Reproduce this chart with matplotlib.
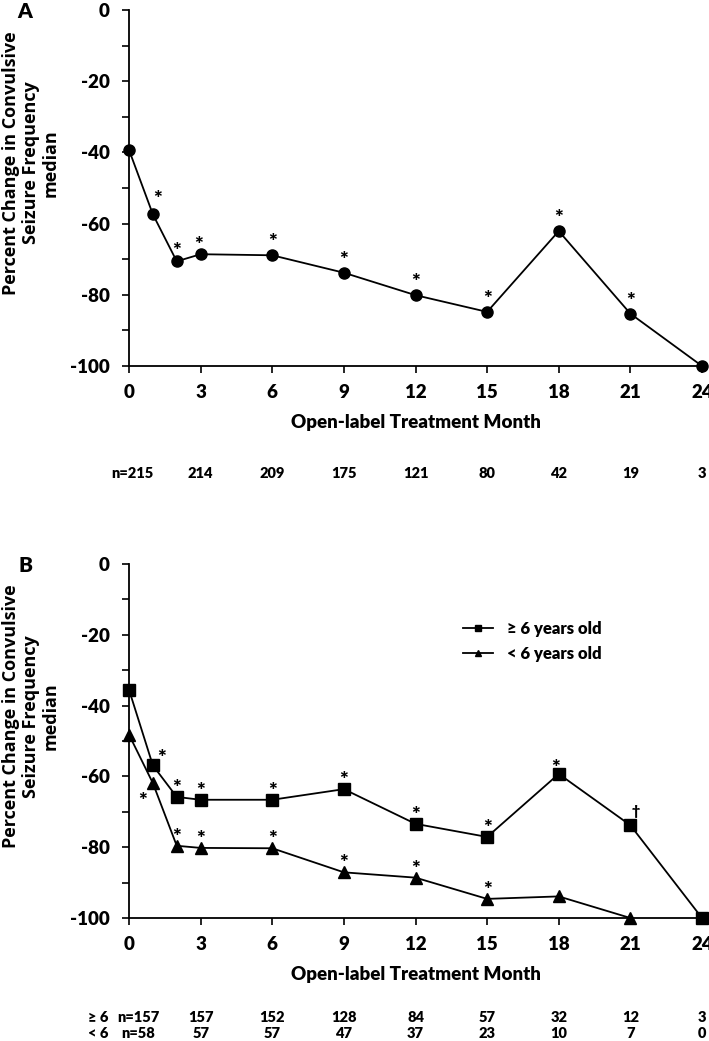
import numpy as np
import matplotlib
matplotlib.use("Agg")
import matplotlib.pyplot as plt

plt.rcParams["axes.unicode_minus"] = False

# ---- data ----
months = [0, 1, 2, 3, 6, 9, 12, 15, 18, 21, 24]
all_median = [-39.3, -57.4, -70.6, -68.6, -68.9, -73.8, -80.1, -84.8, -62.1, -85.3, -100]
all_sig = ["", "*", "*", "*", "*", "*", "*", "*", "*", "*", ""]
n_all = ["n=215", "214", "209", "175", "121", "80", "42", "19", "3"]

ge6_median = [-35.5, -56.9, -65.8, -66.6, -66.6, -63.6, -73.4, -77.1, -59.3, -73.8, -100]
ge6_sig = ["", "*", "*", "*", "*", "*", "*", "*", "*", "\u2020", ""]
lt6_months = [0, 1, 2, 3, 6, 9, 12, 15, 18, 21]
lt6_median = [-48.2, -61.9, -79.6, -80.2, -80.3, -87.1, -88.6, -94.6, -93.9, -100]
lt6_sig = ["", "*", "*", "*", "*", "*", "*", "*", "", ""]
n_ge6 = ["n=157", "157", "152", "128", "84", "57", "32", "12", "3"]
n_lt6 = ["n=58", "57", "57", "47", "37", "23", "10", "7", "0"]

tick_months = [0, 3, 6, 9, 12, 15, 18, 21, 24]

num_font = ["Lato", "DejaVu Sans"]
lab_font = ["Open Sans", "DejaVu Sans"]

W, H = 709, 1041
fig = plt.figure(figsize=(W / 100, H / 100), dpi=100)


def px_axes(l, t, r, b):
    return fig.add_axes([l / W, 1 - b / H, (r - l) / W, (b - t) / H])


def style(ax):
    ax.set_xlim(0, 24)
    ax.set_ylim(-100, 0)
    ax.spines["top"].set_visible(False)
    ax.spines["right"].set_visible(False)
    ax.spines["left"].set_linewidth(1.3)
    ax.spines["bottom"].set_linewidth(1.3)
    ax.set_xticks(tick_months)
    ax.set_yticks(np.arange(-100, 1, 20))
    ax.set_yticks(np.arange(-90, 0, 20), minor=True)
    ax.tick_params(axis="both", which="both", direction="out", length=5, width=1.2)
    ax.tick_params(axis="x", pad=8)
    ax.tick_params(axis="y", pad=9)
    for lb in ax.get_xticklabels() + ax.get_yticklabels():
        lb.set_family(num_font)
        lb.set_fontweight("heavy")
        lb.set_fontsize(13.5)
    ax.set_ylabel("Percent Change in Convulsive\nSeizure Frequency\nmedian",
                  family=lab_font, fontweight="bold", fontsize=13,
                  linespacing=1.15)
    ax.yaxis.set_label_coords(-69 / 573, 0.57)
    ax.set_xlabel("Open-label Treatment Month", family=num_font,
                  fontweight="heavy", fontsize=13.5, labelpad=9)


def stars(ax, xs, ys, marks, dy=16, special=None):
    # dy: pixels from the point up to the centre of the mark
    special = special or {}
    for x, y, m in zip(xs, ys, marks):
        if not m:
            continue
        ddx, ddy = special.get(x, (0, dy))
        size = 15 if m == "*" else 10
        lift = (0.58 if m == "*" else 0.35) * size * 100 / 72
        ax.annotate(m, (x, y), xytext=(ddx, ddy - lift), textcoords="offset pixels",
                    ha="center", va="baseline", fontsize=size,
                    fontweight="heavy", family=num_font, annotation_clip=False)


# ---- panel A ----
axA = px_axes(129, 10, 702, 366)
style(axA)
axA.plot(months, all_median, color="black", lw=1.3, marker="o", ms=8,
         clip_on=False, zorder=3)
stars(axA, months, all_median, all_sig, dy=18, special={1: (5, 20), 2: (0, 15), 3: (-2, 14)})
for m, t in zip(tick_months, n_all):
    axA.text(m + (0.13 if t.startswith("n=") else 0), -(473 - 366) / (366 - 10), t,
             transform=axA.get_xaxis_transform(), ha="center", va="center",
             family=num_font, fontweight="heavy", fontsize=10.5)
fig.text(25 / W, 1 - 12 / H, "A", ha="center", va="center",
         family=num_font, fontweight="heavy", fontsize=15)

# ---- panel B ----
axB = px_axes(129, 564, 702, 918)
style(axB)
axB.plot(months, ge6_median, color="black", lw=1.3, marker="s", ms=8,
         clip_on=False, zorder=3, label="\u2265 6 years old")
axB.plot(lt6_months, lt6_median, color="black", lw=1.3, marker="^", ms=8,
         clip_on=False, zorder=3, label="< 6 years old")
stars(axB, months, ge6_median, ge6_sig, dy=14, special={1: (9, 13), 18: (-3, 11), 21: (5, 14)})
stars(axB, lt6_months, lt6_median, lt6_sig, dy=14, special={1: (-10, -13)})
leg = axB.legend(loc="upper left", bbox_to_anchor=((455 - 129) / 573, 1 - (613 - 564) / 354),
                 frameon=False, handlelength=1.8, handletextpad=0.8,
                 markerscale=0.55, labelspacing=0.5, borderpad=0,
                 prop={"family": num_font, "weight": "heavy", "size": 12})
for m, a, b in zip(tick_months, n_ge6, n_lt6):
    off = 0.38 if a.startswith("n=") else 0
    axB.text(m + off, -(1018 - 918) / 354, a, transform=axB.get_xaxis_transform(),
             ha="center", va="center", family=num_font, fontweight="heavy", fontsize=10.5)
    axB.text(m + off, -(1033 - 918) / 354, b, transform=axB.get_xaxis_transform(),
             ha="center", va="center", family=num_font, fontweight="heavy", fontsize=10.5)
fig.text(98 / W, 1 - 1018 / H, "\u2265 6", ha="center", va="center",
         family=num_font, fontweight="heavy", fontsize=10.5)
fig.text(98 / W, 1 - 1033 / H, "< 6", ha="center", va="center",
         family=num_font, fontweight="heavy", fontsize=10.5)
fig.text(25 / W, 1 - 565 / H, "B", ha="center", va="center",
         family=num_font, fontweight="heavy", fontsize=15)

fig.savefig("out.png", dpi=100, facecolor="white")
